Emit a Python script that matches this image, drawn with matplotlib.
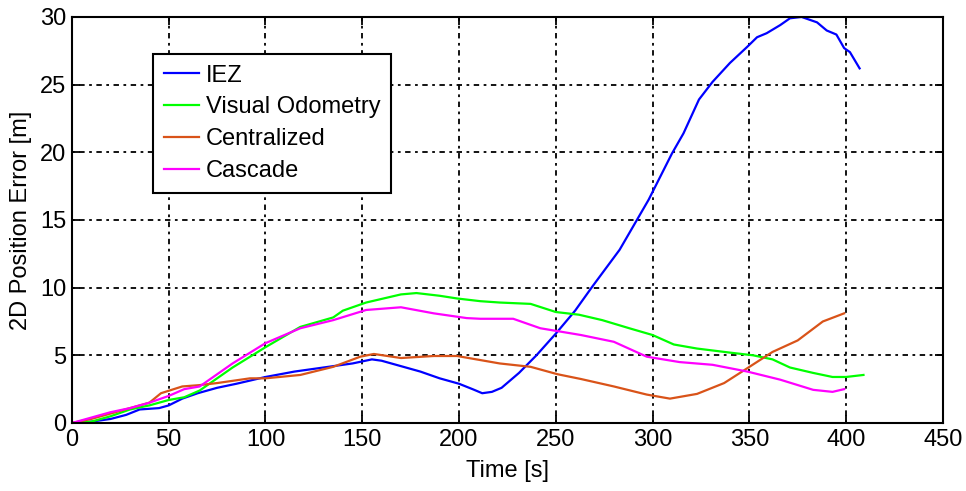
"""2D position error over time for four estimators."""
import matplotlib

matplotlib.use("Agg")
import matplotlib.pyplot as plt

# values
iez_t = [0, 10, 20, 28, 35, 45, 50, 57, 65, 75, 85, 100, 115, 130, 145,
         155, 160, 170, 180, 190, 200, 207, 212, 217, 222, 231, 240, 250,
         260, 269, 283, 298, 310, 316, 324, 331, 340, 349, 354, 359, 366,
         371, 377, 385, 390, 395, 399, 402, 407]
iez_e = [0, 0.1, 0.3, 0.6, 1.0, 1.1, 1.3, 1.8, 2.2, 2.6, 2.9, 3.4, 3.8,
         4.1, 4.4, 4.7, 4.6, 4.2, 3.8, 3.3, 2.9, 2.5, 2.2, 2.3, 2.6, 3.7,
         5.0, 6.6, 8.3, 10.1, 12.8, 16.5, 19.9, 21.4, 23.9, 25.2, 26.6,
         27.8, 28.5, 28.8, 29.4, 29.9, 30.0, 29.6, 29.0, 28.7, 27.7, 27.4,
         26.2]

vo_t = [0, 10, 20, 30, 40, 50, 58, 66, 83, 100, 118, 135, 140, 152, 170,
        178, 190, 199, 211, 221, 237, 250, 262, 274, 288, 300, 311, 323,
        340, 352, 362, 371, 383, 393, 400, 409]
vo_e = [0, 0.1, 0.5, 1.0, 1.3, 1.7, 1.9, 2.4, 4.1, 5.6, 7.1, 7.8, 8.3,
        8.9, 9.5, 9.6, 9.4, 9.2, 9.0, 8.9, 8.8, 8.2, 8.0, 7.6, 7.0, 6.5,
        5.8, 5.5, 5.2, 5.0, 4.7, 4.1, 3.7, 3.4, 3.4, 3.55]

cen_t = [0, 10, 20, 30, 40, 46, 57, 66, 75, 92, 100, 118, 135, 149, 156,
         170, 187, 199, 211, 221, 237, 251, 263, 280, 297, 309, 323, 337,
         349, 362, 375, 388, 399]
cen_e = [0, 0.3, 0.7, 1.1, 1.5, 2.2, 2.7, 2.8, 2.95, 3.3, 3.3, 3.55, 4.15,
         4.9, 5.1, 4.8, 4.95, 4.95, 4.65, 4.4, 4.15, 3.6, 3.25, 2.7, 2.1,
         1.8, 2.15, 2.95, 4.05, 5.25, 6.1, 7.5, 8.1]

cas_t = [0, 10, 20, 30, 40, 50, 58, 66, 83, 100, 118, 135, 152, 170, 187,
         204, 211, 228, 242, 263, 280, 297, 314, 331, 349, 366, 383, 393,
         399]
cas_e = [0, 0.4, 0.8, 1.1, 1.5, 2.0, 2.5, 2.7, 4.4, 5.9, 7.0, 7.6, 8.35,
         8.55, 8.1, 7.75, 7.7, 7.7, 7.0, 6.5, 6.0, 4.9, 4.5, 4.3, 3.8, 3.2,
         2.45, 2.3, 2.5]

labels = ["IEZ", "Visual Odometry", "Centralized", "Cascade"]
colors = ["#0000ff", "#00ff00", "#d95319", "#ff00ff"]


def main():
    """Draw it."""
    plt.rcParams["font.family"] = ["Liberation Sans", "DejaVu Sans"]
    fig = plt.figure(figsize=(9.66, 4.91), dpi=100)
    ax = fig.add_axes([0.0745, 0.1385, 0.9015, 0.827])

    series = [(iez_t, iez_e), (vo_t, vo_e), (cen_t, cen_e), (cas_t, cas_e)]
    for (t, e), lab, col in zip(series, labels, colors):
        ax.plot(t, e, color=col, lw=1.6, label=lab)

    ax.set_xlim(0, 450)
    ax.set_ylim(0, 30)
    ax.set_xticks(range(0, 451, 50))
    ax.set_yticks(range(0, 31, 5))
    ax.tick_params(direction="in", length=6, width=1.3, labelsize=17,
                   top=True, right=True, pad=4)
    for sp in ax.spines.values():
        sp.set_linewidth(1.5)
    ax.grid(True, color="black", lw=1.3, ls=(0, (1.5, 2.5, 3, 2.5)))

    ax.set_xlabel("Time [s]", fontsize=17, labelpad=7)
    ax.set_ylabel("2D Position Error [m]", fontsize=17, labelpad=6)

    leg = ax.legend(loc="upper left", bbox_to_anchor=(0.093, 0.909),
                    borderaxespad=0, fontsize=17, fancybox=False,
                    framealpha=1, edgecolor="black", handlelength=1.5,
                    handletextpad=0.3, labelspacing=0.42, borderpad=0.45)
    leg.get_frame().set_linewidth(1.5)

    fig.savefig("out.png", dpi=100)


if __name__ == "__main__":
    main()
